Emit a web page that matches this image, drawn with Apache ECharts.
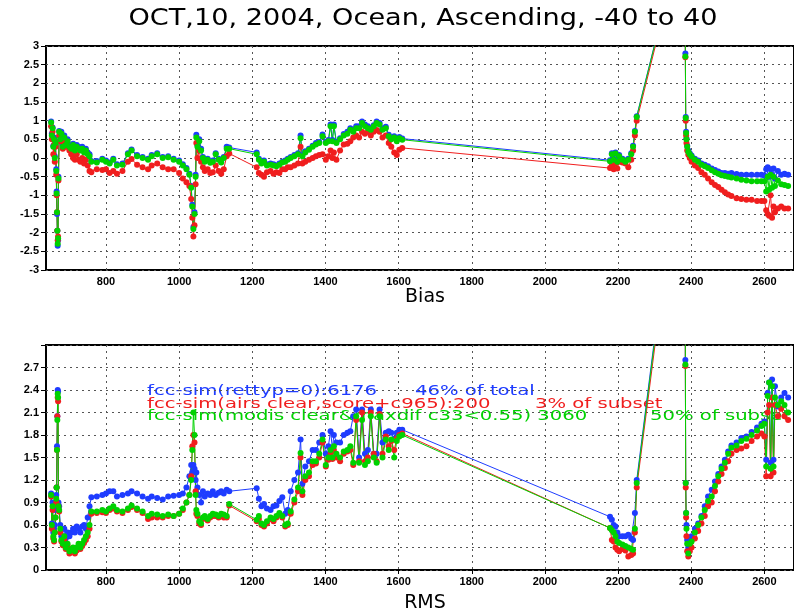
<!DOCTYPE html>
<html>
<head>
<meta charset="utf-8">
<script src="https://cdn.jsdelivr.net/npm/echarts@6/dist/echarts.min.js"></script>
<style>html,body{margin:0;padding:0;background:#fff}#c{width:794px;height:614px}</style>
</head>
<body>
<div id="c"></div>
<script>
// wavenumber (cm-1) of each plotted channel
const wn = [
650,652,654,656,658,660,662,664,665,666,667,668,669,670,672,675,678,682,686,690,695,700,705,710,715,720,725,730,735,740,745,750,755,760,
775,790,800,810,820,830,845,860,870,885,900,915,925,940,955,970,985,1000,1010,1020,1028,1033,1036,1039,1042,1045,1047,
1050,1055,1060,1065,1070,1078,1085,1092,1100,1108,1115,1122,1130,1137,
1212,1218,1225,1232,1240,1250,1258,1266,1274,1282,1290,1297,
1305,1315,1325,1332,1337,1345,1355,1365,1374,1383,1392,1401,1408,1414,1419,1423,1430,1440,1450,1460,1468,1476,1484,1492,1500,1508,1516,1524,1532,1540,1548,1556,1565,1573,1580,1588,1595,1602,1610,
2178,2183,2188,2193,2198,2203,2212,2220,2228,2236,2241,2246,2251,2330,
2383,2384,2385,2386,2387,2389,2392,2396,2401,2410,2419,2428,2437,2446,2456,2465,2474,2483,2492,2501,2510,2524,2537,2551,2565,2580,2592,2600,2605,2609,2613,2617,2621,2625,2629,2637,2646,2655,2665
];
const biasGreen = [
0.95,0.6,0.8,0.3,0.5,0.0,0.4,-0.35,-0.95,-1.45,-1.95,-2.3,-2.15,-0.55,0.7,0.5,0.65,0.3,0.55,0.35,0.45,0.3,0.25,0.35,0.2,0.3,0.25,0.2,0.25,0.15,0.2,0.1,0.05,-0.1,
-0.12,-0.05,-0.1,-0.15,-0.05,-0.2,-0.18,0.1,0.2,0.05,0.0,-0.05,0.05,0.1,0.0,0.02,-0.05,-0.1,-0.2,-0.3,-0.45,-0.8,-1.3,-1.9,-1.5,-0.5,0.55,
0.3,0.45,0.2,0.0,-0.1,-0.05,-0.13,-0.1,0.1,-0.05,-0.12,0.0,0.25,0.25,
0.1,-0.05,-0.15,-0.1,-0.2,-0.18,-0.2,-0.22,-0.18,-0.12,-0.1,-0.05,
0.0,0.05,0.1,0.53,0.05,0.15,0.22,0.3,0.36,0.4,0.58,0.4,0.45,0.85,0.45,0.85,0.4,0.5,0.6,0.65,0.76,0.7,0.8,0.8,0.94,0.85,0.8,0.76,0.85,0.94,0.9,0.76,0.8,0.58,0.5,0.55,0.45,0.53,0.49,
-0.09,0.1,-0.05,0.12,-0.1,0.05,-0.05,-0.1,-0.05,0.1,0.3,0.7,1.1,4.2,
6,2.72,1.07,0.67,0.5,0.3,0.17,0.1,0.04,-0.05,-0.1,-0.18,-0.22,-0.27,-0.33,-0.38,-0.42,-0.46,-0.48,-0.5,-0.52,-0.55,-0.58,-0.6,-0.62,-0.62,-0.62,-0.62,-0.9,-0.5,-0.85,-0.45,-0.8,-0.5,-0.75,-0.6,-0.7,-0.72,-0.75
];
const biasBlue = [
0.98,0.65,0.82,0.33,0.55,0.05,0.45,-0.3,-0.9,-1.5,-1.95,-2.35,-2.2,-0.5,0.72,0.55,0.7,0.35,0.6,0.4,0.5,0.35,0.3,0.38,0.25,0.35,0.3,0.25,0.3,0.2,0.25,0.15,0.1,-0.08,
-0.08,-0.02,-0.07,-0.12,-0.02,-0.17,-0.15,0.13,0.23,0.08,0.03,-0.02,0.08,0.13,0.03,0.05,-0.02,-0.07,-0.17,-0.27,-0.42,-0.75,-1.25,-1.85,-1.45,-0.45,0.62,
0.35,0.5,0.25,0.03,-0.07,-0.02,-0.1,-0.07,0.13,-0.02,-0.1,0.03,0.3,0.28,
0.15,-0.02,-0.12,-0.07,-0.17,-0.15,-0.17,-0.2,-0.15,-0.1,-0.07,-0.02,
0.03,0.08,0.13,0.6,0.08,0.18,0.25,0.33,0.4,0.43,0.63,0.43,0.48,0.9,0.48,0.9,0.43,0.53,0.64,0.7,0.8,0.75,0.85,0.85,0.98,0.9,0.85,0.8,0.88,0.98,0.94,0.8,0.84,0.62,0.55,0.58,0.5,0.56,0.52,
-0.06,0.13,-0.02,0.15,-0.07,0.08,-0.02,-0.07,-0.02,0.13,0.33,0.72,1.12,4.22,
6,2.8,1.1,0.7,0.52,0.33,0.2,0.13,0.07,-0.02,-0.07,-0.15,-0.18,-0.22,-0.28,-0.32,-0.36,-0.4,-0.4,-0.42,-0.4,-0.43,-0.45,-0.45,-0.45,-0.45,-0.45,-0.47,-0.3,-0.25,-0.5,-0.3,-0.45,-0.28,-0.55,-0.35,-0.45,-0.42,-0.45
];
const biasRed = [
0.85,0.5,0.7,0.1,0.35,-0.1,0.3,-0.45,-1.0,-1.45,-1.95,-2.2,-2.1,-0.6,0.6,0.45,0.55,0.25,0.4,0.3,0.3,0.2,0.1,0.0,-0.05,0.1,-0.05,-0.1,0.0,-0.15,-0.05,-0.2,-0.35,-0.38,
-0.3,-0.32,-0.3,-0.4,-0.35,-0.42,-0.35,-0.1,-0.03,-0.18,-0.25,-0.3,-0.2,-0.15,-0.25,-0.3,-0.3,-0.4,-0.55,-0.65,-0.75,-1.1,-1.6,-2.1,-1.8,-0.7,0.4,
0.0,0.2,-0.1,-0.25,-0.35,-0.3,-0.4,-0.38,-0.2,-0.35,-0.42,-0.3,0.05,0.12,
-0.25,-0.4,-0.45,-0.5,-0.38,-0.35,-0.42,-0.38,-0.4,-0.3,-0.3,-0.25,
-0.25,-0.2,-0.15,0.3,-0.15,-0.1,-0.05,0.0,0.05,0.08,0.1,-0.05,0.05,0.2,0.0,0.15,-0.05,0.2,0.36,0.38,0.45,0.55,0.6,0.55,0.7,0.65,0.7,0.6,0.7,0.75,0.7,0.55,0.6,0.4,0.3,0.15,0.08,0.22,0.27,
-0.27,-0.2,-0.3,-0.15,-0.28,-0.1,-0.12,-0.15,-0.25,-0.05,0.2,0.6,1.0,4.1,
6,2.7,1.0,0.6,0.4,0.2,0.09,0.0,-0.1,-0.2,-0.27,-0.38,-0.45,-0.55,-0.65,-0.72,-0.78,-0.85,-0.92,-0.98,-1.02,-1.08,-1.1,-1.12,-1.12,-1.15,-1.15,-1.15,-1.4,-1.5,-1.55,-1.0,-1.6,-1.3,-1.45,-1.35,-1.3,-1.35,-1.35
];
const rmsGreen = [
1.0,0.6,0.85,0.45,0.4,0.5,0.7,0.95,1.1,1.6,2.0,2.35,2.3,0.85,0.8,0.55,0.4,0.35,0.45,0.3,0.35,0.25,0.28,0.3,0.25,0.3,0.35,0.3,0.35,0.4,0.45,0.5,0.6,0.78,
0.78,0.8,0.78,0.82,0.85,0.8,0.78,0.82,0.86,0.82,0.78,0.72,0.75,0.74,0.72,0.74,0.72,0.75,0.82,0.9,1.0,1.2,1.6,2.1,1.8,1.0,0.8,
0.75,0.65,0.62,0.7,0.72,0.68,0.72,0.75,0.74,0.72,0.75,0.74,0.72,0.88,
0.67,0.72,0.62,0.6,0.65,0.7,0.68,0.72,0.76,0.72,0.6,0.62,
0.78,0.94,1.1,1.56,1.05,1.25,1.3,1.45,1.45,1.55,1.74,1.4,1.5,1.6,1.5,1.65,1.55,1.5,1.58,1.6,1.65,1.43,2.05,1.43,2.0,1.4,1.45,2.05,1.5,1.43,2.05,1.5,1.74,1.6,1.74,1.5,1.72,1.78,1.8,
0.56,0.53,0.5,0.45,0.38,0.36,0.34,0.32,0.3,0.28,0.27,0.55,1.16,4.2,
6,2.74,1.16,0.76,0.55,0.35,0.22,0.35,0.38,0.5,0.6,0.7,0.8,0.92,0.98,1.12,1.25,1.35,1.43,1.55,1.63,1.66,1.72,1.75,1.8,1.86,1.92,1.95,1.38,2.32,2.5,1.35,2.45,1.38,2.3,2.2,2.25,2.2,2.1
];
const rmsBlue = [
1.02,0.62,0.9,0.5,0.55,0.6,0.8,1.0,1.1,1.65,2.05,2.4,2.38,0.9,0.85,0.6,0.45,0.45,0.55,0.42,0.5,0.45,0.5,0.55,0.5,0.58,0.55,0.5,0.58,0.6,0.55,0.7,0.85,0.97,
0.98,1.0,1.02,1.05,1.05,0.98,1.0,1.02,1.05,1.02,0.98,0.95,0.98,0.96,0.94,0.98,0.99,1.0,1.02,1.1,1.25,1.4,1.3,1.4,1.35,1.2,1.3,
1.1,1.0,0.9,1.05,0.98,1.02,1.0,1.05,1.0,1.03,1.05,1.02,1.07,1.05,
1.09,0.95,0.85,0.88,0.82,0.8,0.85,0.86,0.92,0.97,0.75,0.8,
1.05,1.2,1.3,1.74,1.15,1.38,1.45,1.6,1.6,1.7,1.8,1.55,1.65,1.85,1.62,1.8,1.7,1.7,1.8,1.83,1.85,2.05,2.14,1.5,2.14,1.55,1.6,2.14,1.55,1.55,2.14,1.7,1.83,1.85,1.83,1.75,1.83,1.87,1.87,
0.71,0.67,0.6,0.58,0.5,0.45,0.45,0.45,0.47,0.42,0.4,0.76,1.2,4.25,
6,2.8,1.16,0.76,0.6,0.4,0.3,0.4,0.45,0.55,0.62,0.72,0.85,0.98,1.07,1.18,1.28,1.38,1.47,1.58,1.66,1.7,1.76,1.78,1.84,1.9,1.95,1.98,1.47,2.36,2.5,1.43,2.54,1.47,2.45,2.18,2.3,2.36,2.3
];
const rmsRed = [
0.98,0.55,0.8,0.42,0.38,0.5,0.7,0.9,1.1,1.6,2.05,2.3,2.25,0.85,0.78,0.5,0.38,0.33,0.4,0.28,0.32,0.22,0.25,0.27,0.22,0.26,0.3,0.28,0.32,0.36,0.4,0.45,0.55,0.75,
0.76,0.77,0.76,0.8,0.82,0.78,0.76,0.8,0.84,0.8,0.76,0.68,0.7,0.7,0.7,0.72,0.72,0.75,0.8,0.9,1.0,1.25,1.65,1.8,1.7,1.05,0.75,
0.72,0.62,0.6,0.68,0.7,0.66,0.7,0.72,0.72,0.7,0.72,0.7,0.7,0.86,
0.65,0.68,0.6,0.58,0.62,0.68,0.65,0.7,0.74,0.7,0.58,0.6,
0.75,0.9,1.05,1.5,1.0,1.2,1.25,1.4,1.42,1.5,1.7,1.38,1.47,1.55,1.48,1.6,1.5,1.45,1.55,1.58,1.6,1.4,2.0,1.45,2.1,1.45,1.5,2.1,1.55,1.45,2.08,1.55,1.78,1.65,1.72,1.6,1.75,1.8,1.82,
0.56,0.4,0.38,0.3,0.27,0.25,0.28,0.26,0.18,0.2,0.22,0.5,1.1,4.1,
6,2.72,1.1,0.7,0.45,0.25,0.18,0.25,0.3,0.42,0.52,0.62,0.72,0.85,0.9,1.05,1.18,1.28,1.36,1.45,1.55,1.6,1.62,1.65,1.72,1.78,1.82,1.78,1.25,2.1,2.2,1.25,2.3,1.3,2.2,2.05,2.15,2.05,2.0
];
const xTicks = [800,1000,1200,1400,1600,1800,2000,2200,2400,2600];
const titleText = 'OCT,10, 2004, Ocean, Ascending, -40 to 40';
const panelNames = ['Bias','RMS'];
const legendLeft = ['fcc-sim(rettyp=0):6176','fcc-sim(airs clear,score+c965):200','fcc-sim(modis clear&maxdif c33<0.55) 3060'];
const legendRight = ['46% of total','3% of subset','50% of subset'];

const BLUE = '#1e3cff', RED = '#f01e1e', GREEN = '#00d200';
const pairs = a => wn.map((x,i)=>[x,a[i]]);
const chart = echarts.init(document.getElementById('c'), null, {renderer:'canvas'});
const lblStyle = {color:'#000', fontFamily:'Liberation Sans', fontWeight:'bold', fontSize:11};
const gridLine = {show:true, lineStyle:{color:'#555', type:[2,4], width:1}};
function xAx(g){return {gridIndex:g, type:'value', min:636, max:2681,
  axisLine:{show:false}, axisTick:{show:true, customValues:xTicks, length:4, lineStyle:{color:'#000'}},
  axisLabel:Object.assign({customValues:xTicks, margin:6, formatter:v=>String(v)}, lblStyle), splitLine:gridLine};}
function ser(g, arr, col){return {type:'line', xAxisIndex:g, yAxisIndex:g, data:pairs(arr),
  symbol:'circle', symbolSize:6, itemStyle:{color:col}, lineStyle:{color:col, width:1}, clip:true, silent:true};}
const legendY = [391.5, 404, 416.5];
const legendCol = [BLUE, RED, GREEN];
const rightX = [415, 535, 650];
const graphic = [
  {type:'text', x:423, y:19, scaleX:1.18, style:{text:titleText, font:'23px "DejaVu Sans"', fill:'#000', textAlign:'center', textVerticalAlign:'middle'}},
  {type:'text', x:425, y:297, style:{text:panelNames[0], font:'19px "DejaVu Sans"', fill:'#000', textAlign:'center', textVerticalAlign:'middle'}},
  {type:'text', x:425, y:603, style:{text:panelNames[1], font:'19px "DejaVu Sans"', fill:'#000', textAlign:'center', textVerticalAlign:'middle'}}
];
for (let i=0;i<3;i++){
  graphic.push({type:'text', x:147, y:legendY[i], scaleX:1.4, style:{text:legendLeft[i], font:'14px "DejaVu Sans"', fill:legendCol[i], textVerticalAlign:'middle'}});
  graphic.push({type:'text', x:rightX[i], y:legendY[i], scaleX:1.4, style:{text:legendRight[i], font:'14px "DejaVu Sans"', fill:legendCol[i], textVerticalAlign:'middle'}});
}
chart.setOption({
  animation:false,
  backgroundColor:'#fff',
  grid:[
    {left:46, top:46, width:750, height:224, show:true, borderColor:'#000', borderWidth:2, backgroundColor:'transparent'},
    {left:46, top:345, width:750, height:225, show:true, borderColor:'#000', borderWidth:2, backgroundColor:'transparent'}
  ],
  xAxis:[xAx(0), xAx(1)],
  yAxis:[
    {gridIndex:0, type:'value', min:-3, max:3, interval:0.5, axisLine:{show:false},
     axisTick:{show:true, length:5, lineStyle:{color:'#000'}}, axisLabel:Object.assign({margin:7}, lblStyle), splitLine:gridLine},
    {gridIndex:1, type:'value', min:0, max:3, interval:0.3, axisLine:{show:false},
     axisTick:{show:true, length:5, lineStyle:{color:'#000'}},
     axisLabel:Object.assign({margin:7, formatter:v=> v>2.95 ? '' : String(Math.round(v*10)/10)}, lblStyle), splitLine:gridLine}
  ],
  series:[
    ser(0,biasBlue,BLUE), ser(0,biasRed,RED), ser(0,biasGreen,GREEN),
    ser(1,rmsBlue,BLUE), ser(1,rmsRed,RED), ser(1,rmsGreen,GREEN)
  ],
  graphic:graphic
});
</script>
</body>
</html>
